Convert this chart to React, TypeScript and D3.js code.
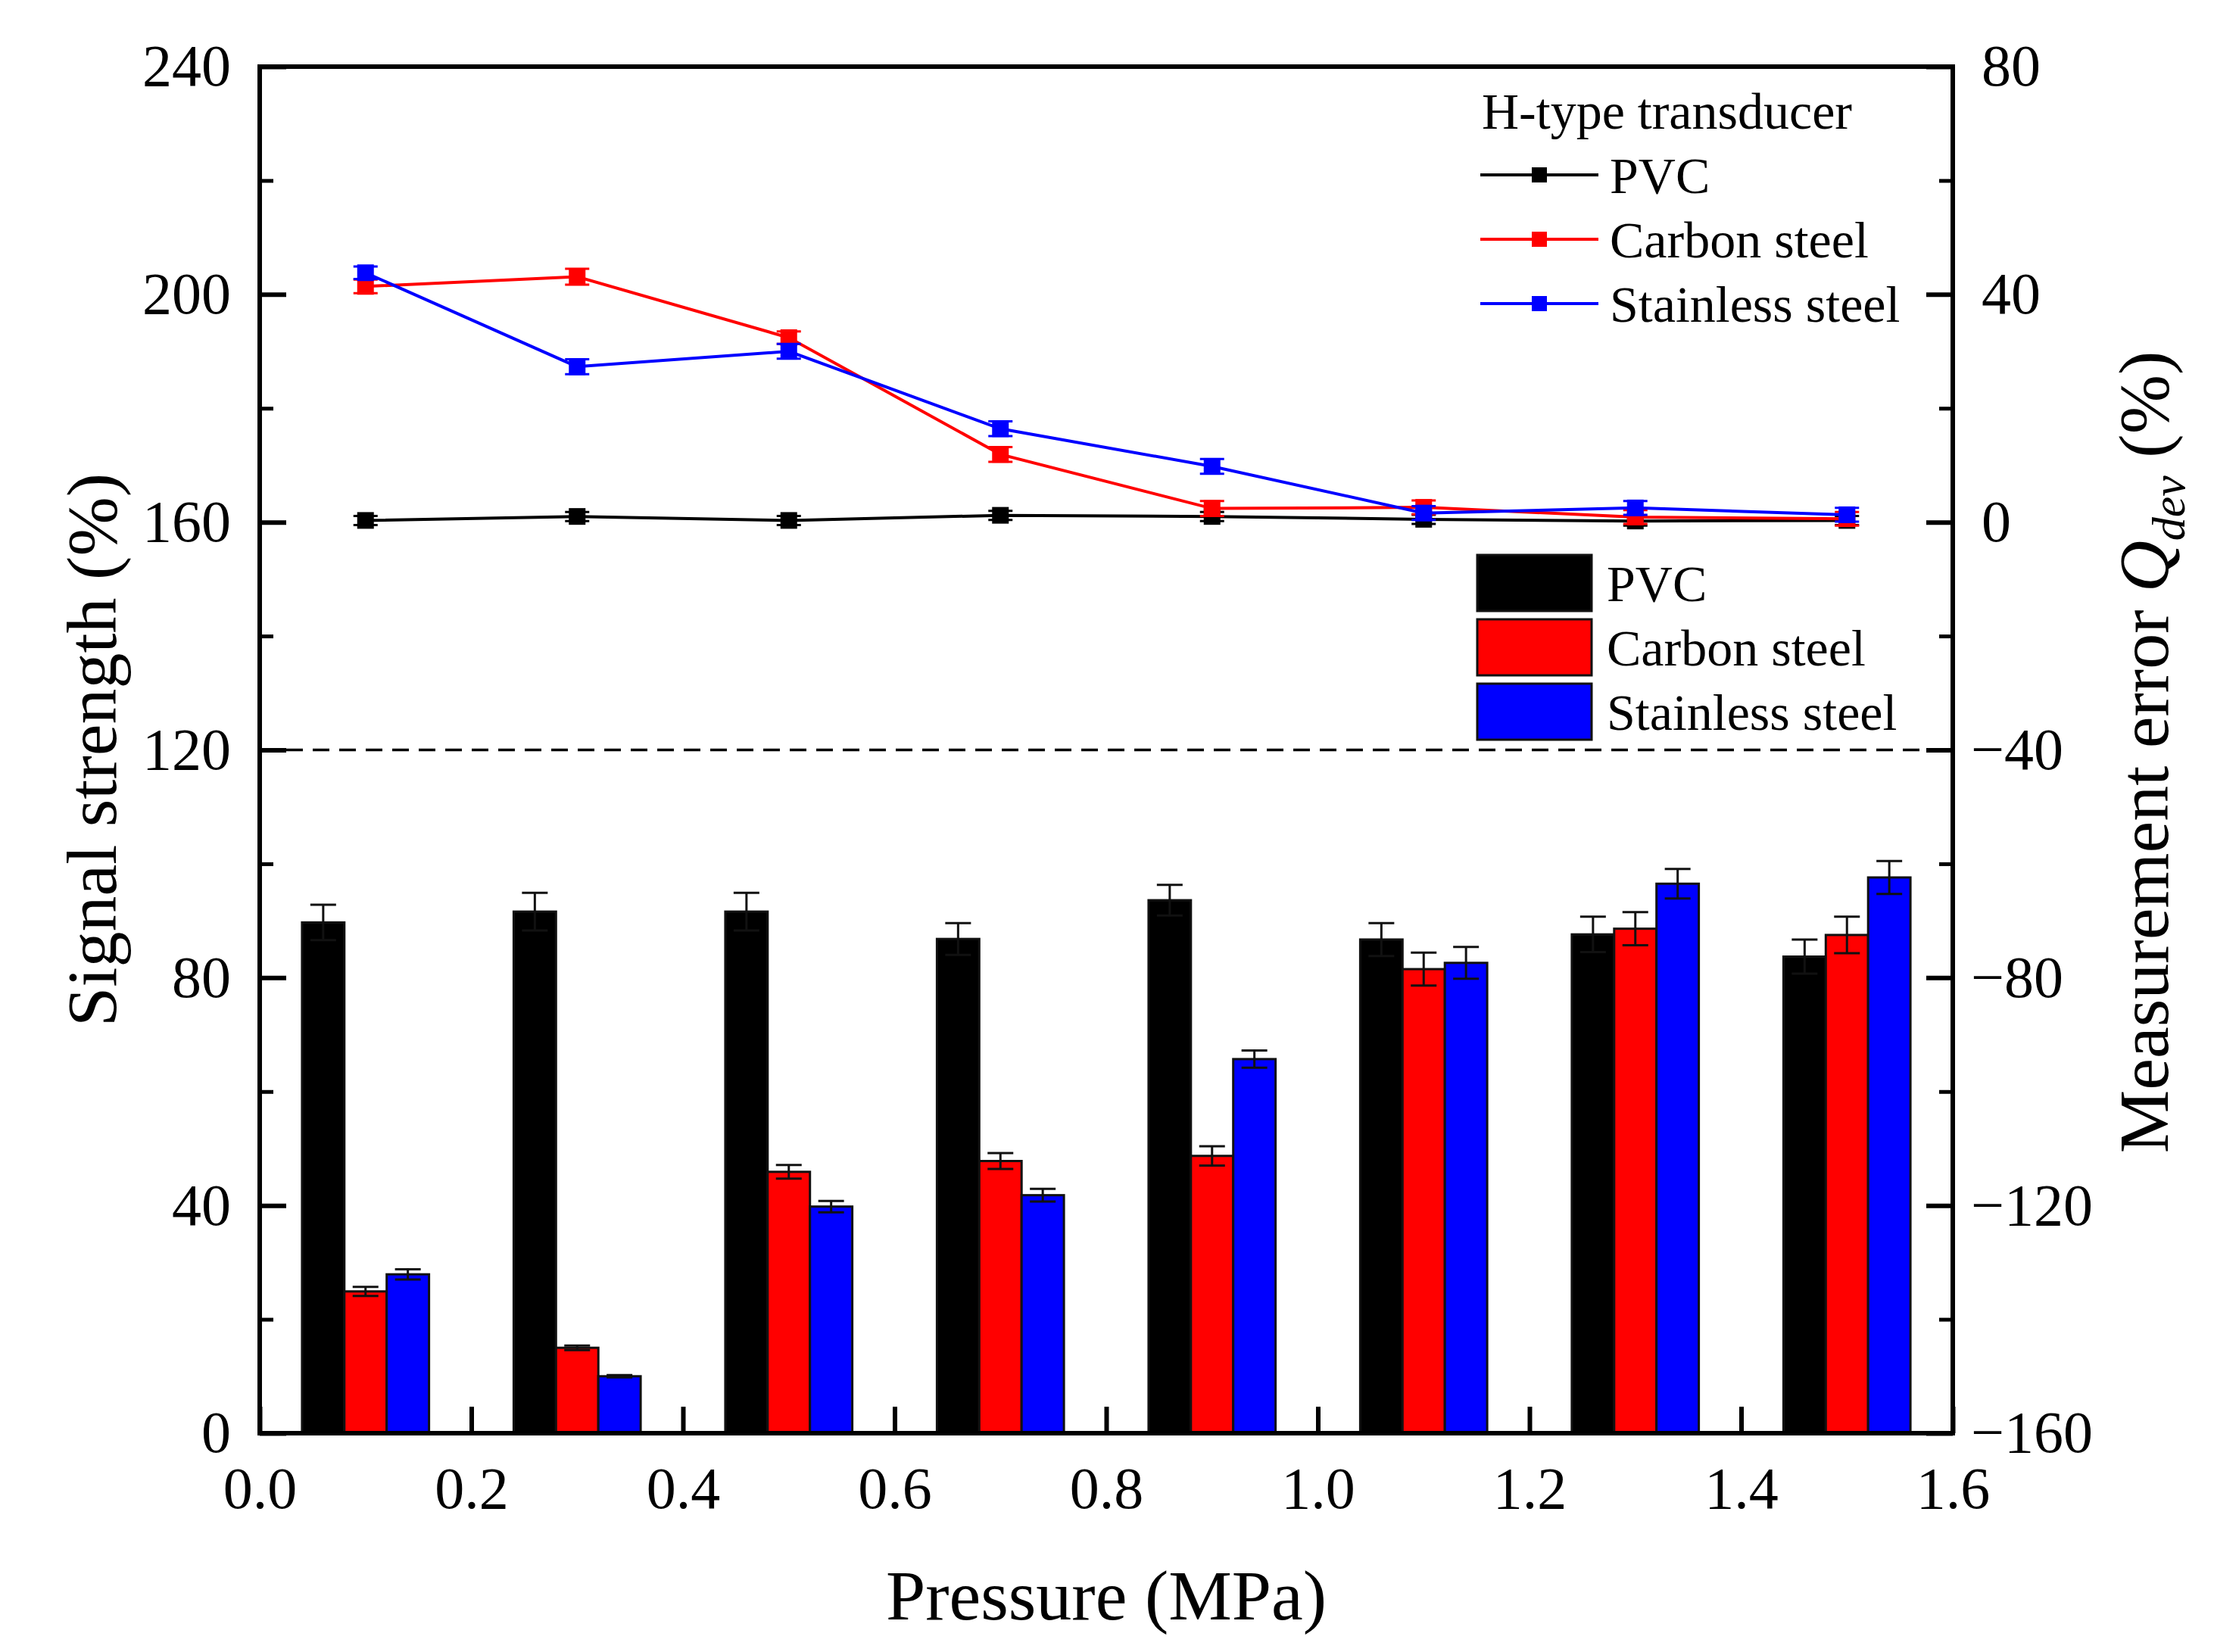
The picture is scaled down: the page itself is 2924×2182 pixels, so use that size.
import React, { useEffect, useRef } from "react";
import * as d3 from "d3";

// pressure groups (MPa)
const pressures = [0.1, 0.3, 0.5, 0.7, 0.9, 1.1, 1.3, 1.5];

// signal strength bars (%), left axis
const pvcSignal = [89.7, 91.6, 91.6, 86.8, 93.6, 86.7, 87.6, 83.7];
const pvcSignalErr = [3.1, 3.3, 3.3, 2.8, 2.7, 2.9, 3.1, 3.0];
const carbonSignal = [24.9, 15.0, 45.9, 47.8, 48.7, 81.5, 88.6, 87.5];
const carbonSignalErr = [0.8, 0.4, 1.2, 1.4, 1.7, 2.9, 2.9, 3.2];
const stainlessSignal = [27.9, 10.0, 39.8, 41.8, 65.7, 82.6, 96.5, 97.6];
const stainlessSignalErr = [0.9, 0.2, 1.0, 1.1, 1.5, 2.8, 2.6, 2.9];

// measurement error Q_dev (%), right axis
const pvcDev = [0.3, 1.0, 0.3, 1.2, 1.0, 0.5, 0.2, 0.3];
const pvcDevErr = [0.8, 0.8, 0.8, 0.8, 0.8, 0.8, 0.8, 0.8];
const carbonDev = [41.4, 43.1, 32.4, 11.9, 2.4, 2.6, 0.9, 0.6];
const carbonDevErr = [1.2, 1.4, 1.1, 1.3, 1.3, 1.2, 1.2, 1.2];
const stainlessDev = [43.8, 27.3, 30.0, 16.4, 9.8, 1.6, 2.5, 1.3];
const stainlessDevErr = [1.1, 1.3, 1.3, 1.3, 1.3, 1.2, 1.2, 1.2];

const seriesNames = ["PVC", "Carbon steel", "Stainless steel"];
const seriesColors = ["#000000", "#ff0000", "#0000ff"];

// axis ticks
const xTicks = [0, 0.2, 0.4, 0.6, 0.8, 1.0, 1.2, 1.4, 1.6];
const leftTicks = [0, 40, 80, 120, 160, 200, 240];
const leftMinor = [20, 60, 100, 140, 180, 220];
const rightTicks = [-160, -120, -80, -40, 0, 40, 80];
const rightMinor = [-140, -100, -60, -20, 20, 60];

const FONT = "'Liberation Serif', 'Times New Roman', serif";

const App: React.FC = () => {
  const svgRef = useRef<SVGSVGElement>(null);
  const width = 2924;
  const height = 2182;
  const margin = { left: 343, right: 2579, top: 88, bottom: 1893 };

  useEffect(() => {
    document.body.style.margin = "0";
    if (!svgRef.current) return;
    const svg = d3.select(svgRef.current);
    svg.selectAll("*").remove();

    const x = d3.scaleLinear().domain([0, 1.6]).range([margin.left, margin.right]);
    const yL = d3.scaleLinear().domain([0, 240]).range([margin.bottom, margin.top]);
    const yR = d3.scaleLinear().domain([-160, 80]).range([margin.bottom, margin.top]);

    const barW = 0.04;
    const bars = [
      { values: pvcSignal, errs: pvcSignalErr },
      { values: carbonSignal, errs: carbonSignalErr },
      { values: stainlessSignal, errs: stainlessSignalErr },
    ];

    // Bars
    bars.forEach((s, si) => {
      const g = svg.append("g");
      const offset = (si - 1) * barW;
      g.selectAll("rect")
        .data(pressures)
        .join("rect")
        .attr("x", (p) => x(p + offset - barW / 2))
        .attr("width", (p) => x(p + offset + barW / 2) - x(p + offset - barW / 2))
        .attr("y", (p, i) => yL(s.values[i]))
        .attr("height", (p, i) => yL(0) - yL(s.values[i]))
        .attr("fill", seriesColors[si])
        .attr("stroke", "#111")
        .attr("stroke-width", 3);

      // error bars
      const eb = svg.append("g").attr("stroke", "#111").attr("stroke-width", 3);
      pressures.forEach((p, i) => {
        const cx = x(p + offset);
        const hi = yL(s.values[i] + s.errs[i]);
        const lo = yL(s.values[i] - s.errs[i]);
        eb.append("line").attr("x1", cx).attr("x2", cx).attr("y1", hi).attr("y2", lo);
        eb.append("line").attr("x1", cx - 17).attr("x2", cx + 17).attr("y1", hi).attr("y2", hi);
        eb.append("line").attr("x1", cx - 17).attr("x2", cx + 17).attr("y1", lo).attr("y2", lo);
      });
    });

    // Dashed separator at 120 %
    svg
      .append("line")
      .attr("x1", margin.left)
      .attr("x2", margin.right)
      .attr("y1", yL(120))
      .attr("y2", yL(120))
      .attr("stroke", "#000")
      .attr("stroke-width", 3.5)
      .attr("stroke-dasharray", "22 13");

    // Lines with error bars
    const lines = [
      { values: pvcDev, errs: pvcDevErr },
      { values: carbonDev, errs: carbonDevErr },
      { values: stainlessDev, errs: stainlessDevErr },
    ];
    const line = d3
      .line<number>()
      .x((d, i) => x(pressures[i]))
      .y((d) => yR(d));

    lines.forEach((s, si) => {
      const color = seriesColors[si];
      svg
        .append("path")
        .datum(s.values)
        .attr("d", line)
        .attr("fill", "none")
        .attr("stroke", color)
        .attr("stroke-width", 4);
      const eb = svg.append("g").attr("stroke", color).attr("stroke-width", 3);
      pressures.forEach((p, i) => {
        const cx = x(p);
        const hi = yR(s.values[i] + s.errs[i]);
        const lo = yR(s.values[i] - s.errs[i]);
        eb.append("line").attr("x1", cx).attr("x2", cx).attr("y1", hi).attr("y2", lo);
        eb.append("line").attr("x1", cx - 16).attr("x2", cx + 16).attr("y1", hi).attr("y2", hi);
        eb.append("line").attr("x1", cx - 16).attr("x2", cx + 16).attr("y1", lo).attr("y2", lo);
      });
      svg
        .append("g")
        .selectAll("rect")
        .data(s.values)
        .join("rect")
        .attr("x", (d, i) => x(pressures[i]) - 11)
        .attr("y", (d) => yR(d) - 11)
        .attr("width", 22)
        .attr("height", 22)
        .attr("fill", color);
    });

    // Axes (ticks point inward)
    const styleAxis = (g: d3.Selection<SVGGElement, unknown, null, undefined>, w: number) => {
      g.attr("font-family", FONT).attr("font-size", 78);
      g.select(".domain").remove();
      g.selectAll(".tick line").attr("stroke-width", w);
      g.selectAll(".tick text").attr("fill", "#000");
    };

    const gx = svg
      .append("g")
      .attr("transform", `translate(0,${margin.bottom})`)
      .call(d3.axisBottom(x).tickValues(xTicks).tickSize(-35).tickFormat(d3.format(".1f")));
    styleAxis(gx, 6);
    gx.selectAll(".tick text").attr("y", 99).attr("dy", null);

    const gl = svg
      .append("g")
      .attr("transform", `translate(${margin.left},0)`)
      .call(d3.axisLeft(yL).tickValues(leftTicks).tickSize(-35).tickPadding(38));
    styleAxis(gl, 6);
    const glm = svg
      .append("g")
      .attr("transform", `translate(${margin.left},0)`)
      .call(d3.axisLeft(yL).tickValues(leftMinor).tickSize(-18).tickFormat(() => ""));
    styleAxis(glm, 5);

    const gr = svg
      .append("g")
      .attr("transform", `translate(${margin.right},0)`)
      .call(d3.axisRight(yR).tickValues(rightTicks).tickSize(-35).tickFormat(d3.format("d")));
    styleAxis(gr, 6);
    gr.selectAll<SVGTextElement, number>(".tick text").attr("x", (d) => (d < 0 ? 24 : 38));
    const grm = svg
      .append("g")
      .attr("transform", `translate(${margin.right},0)`)
      .call(d3.axisRight(yR).tickValues(rightMinor).tickSize(-18).tickFormat(() => ""));
    styleAxis(grm, 5);

    // Frame
    svg
      .append("rect")
      .attr("x", margin.left)
      .attr("y", margin.top)
      .attr("width", margin.right - margin.left)
      .attr("height", margin.bottom - margin.top)
      .attr("fill", "none")
      .attr("stroke", "#000")
      .attr("stroke-width", 6);

    // Axis titles
    svg
      .append("text")
      .attr("x", (margin.left + margin.right) / 2)
      .attr("y", 2139)
      .attr("text-anchor", "middle")
      .attr("font-family", FONT)
      .attr("font-size", 94)
      .text("Pressure (MPa)");

    svg
      .append("text")
      .attr("transform", `translate(153,${(margin.top + margin.bottom) / 2}) rotate(-90)`)
      .attr("text-anchor", "middle")
      .attr("font-family", FONT)
      .attr("font-size", 94)
      .text("Signal strength (%)");

    const rt = svg
      .append("text")
      .attr("transform", `translate(2863,${(margin.top + margin.bottom) / 2 + 3}) rotate(-90)`)
      .attr("text-anchor", "middle")
      .attr("font-family", FONT)
      .attr("font-size", 94);
    rt.append("tspan").text("Measurement error ");
    rt.append("tspan").attr("font-style", "italic").text("Q");
    rt.append("tspan").attr("font-style", "italic").attr("font-size", 62).attr("dy", 22).text("dev");
    rt.append("tspan").attr("dy", -22).text(" (%)");

    // Line legend
    const leg = svg.append("g").attr("font-family", FONT).attr("font-size", 68);
    leg.append("text").attr("x", 1957).attr("y", 170).text("H-type transducer");
    seriesNames.forEach((name, i) => {
      const ry = 231 + i * 85;
      leg
        .append("line")
        .attr("x1", 1955)
        .attr("x2", 2111)
        .attr("y1", ry)
        .attr("y2", ry)
        .attr("stroke", seriesColors[i])
        .attr("stroke-width", 4);
      leg
        .append("rect")
        .attr("x", 2033 - 10)
        .attr("y", ry - 10)
        .attr("width", 20)
        .attr("height", 20)
        .attr("fill", seriesColors[i]);
      leg.append("text").attr("x", 2126).attr("y", ry).attr("dy", "0.35em").text(name);
    });

    // Bar legend
    seriesNames.forEach((name, i) => {
      const ry = 733 + i * 85;
      leg
        .append("rect")
        .attr("x", 1951)
        .attr("y", ry)
        .attr("width", 151)
        .attr("height", 74)
        .attr("fill", seriesColors[i])
        .attr("stroke", "#111")
        .attr("stroke-width", 3);
      leg
        .append("text")
        .attr("x", 2122)
        .attr("y", ry + 37)
        .attr("dy", "0.35em")
        .text(name);
    });
  }, []);

  return (
    <svg
      ref={svgRef}
      width={width}
      height={height}
      viewBox={`0 0 ${width} ${height}`}
      style={{ display: "block", background: "#fff" }}
    ></svg>
  );
};

export default App;
